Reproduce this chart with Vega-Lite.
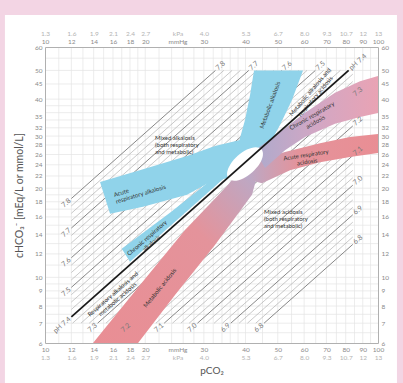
{
"$schema":"https://vega.github.io/schema/vega-lite/v6.json",
"width":333,"height":296,"autosize":"none",
"padding":{"left":45,"top":47,"right":25,"bottom":40},
"background":"#f3d5e4",
"config":{"view":{"stroke":null},"font":"Lato","axis":{"grid":false,"ticks":false,"domain":false,"labelOverlap":false,"labelFlush":false,"labelFontSize":6.5,"labelColor":"#8a8a8a","titleFontWeight":"normal","titleColor":"#555555"}},
"resolve":{"axis":{"x":"independent","y":"independent"}},
"datasets":{
"gx":[{"p":11},{"p":12},{"p":13},{"p":14},{"p":15},{"p":16},{"p":17},{"p":18},{"p":19},{"p":20},{"p":22},{"p":24},{"p":26},{"p":28},{"p":30},{"p":32},{"p":34},{"p":36},{"p":38},{"p":40},{"p":45},{"p":50},{"p":55},{"p":60},{"p":65},{"p":70},{"p":75},{"p":80},{"p":85},{"p":90},{"p":95}],
"gy":[{"h":6.5},{"h":7},{"h":7.5},{"h":8},{"h":8.5},{"h":9},{"h":9.5},{"h":10},{"h":11},{"h":12},{"h":13},{"h":14},{"h":15},{"h":16},{"h":17},{"h":18},{"h":19},{"h":20},{"h":22},{"h":24},{"h":26},{"h":28},{"h":30},{"h":32},{"h":34},{"h":36},{"h":38},{"h":40},{"h":45},{"h":50},{"h":55}],
"bands":[
{"b":"ara","i":1,"p":14.63,"h":21.0},{"b":"ara","i":2,"p":19.70,"h":23.2},{"b":"ara","i":3,"p":26.70,"h":25.7},{"b":"ara","i":4,"p":32.39,"h":27.8},{"b":"ara","i":5,"p":38.52,"h":29.1},{"b":"ara","i":6,"p":40.71,"h":24.5},{"b":"ara","i":7,"p":35.44,"h":21.7},{"b":"ara","i":8,"p":30.65,"h":20.7},{"b":"ara","i":9,"p":26.70,"h":19.0},{"b":"ara","i":10,"p":19.70,"h":17.3},{"b":"ara","i":11,"p":15.68,"h":16.4},
{"b":"cra","i":1,"p":17.0,"h":12.5},{"b":"cra","i":2,"p":24.0,"h":16.7},{"b":"cra","i":3,"p":31.0,"h":21.0},{"b":"cra","i":4,"p":36.0,"h":24.0},{"b":"cra","i":5,"p":38.0,"h":23.8},{"b":"cra","i":6,"p":18.0,"h":11.28},
{"b":"ma","i":1,"p":42.43,"h":50},{"b":"ma","i":2,"p":59.55,"h":50},{"b":"ma","i":3,"p":55.17,"h":39.7},{"b":"ma","i":4,"p":50.79,"h":32.7},{"b":"ma","i":5,"p":46.10,"h":26.9},{"b":"ma","i":6,"p":39.87,"h":24.9},{"b":"ma","i":7,"p":37.99,"h":28.0},{"b":"ma","i":8,"p":39.87,"h":34.0},{"b":"ma","i":9,"p":41.28,"h":41.3},
{"b":"mac","i":1,"p":13.94,"h":6},{"b":"mac","i":2,"p":19.29,"h":9.42},{"b":"mac","i":3,"p":26.33,"h":14.45},{"b":"mac","i":4,"p":35.44,"h":20.5},{"b":"mac","i":5,"p":37.5,"h":22.3},{"b":"mac","i":6,"p":43.5,"h":22.3},{"b":"mac","i":7,"p":41.84,"h":19.0},{"b":"mac","i":8,"p":32.39,"h":12.86},{"b":"mac","i":9,"p":24.57,"h":8.72},{"b":"mac","i":10,"p":19.03,"h":6},
{"b":"arac","i":1,"p":40.0,"h":23.5},{"b":"arac","i":2,"p":41.28,"h":24.5},{"b":"arac","i":3,"p":52.57,"h":26.5},{"b":"arac","i":4,"p":66.96,"h":28.4},{"b":"arac","i":5,"p":82.39,"h":29.8},{"b":"arac","i":6,"p":100,"h":30.5},{"b":"arac","i":7,"p":100,"h":26.3},{"b":"arac","i":8,"p":82.39,"h":25.5},{"b":"arac","i":9,"p":66.96,"h":24.5},{"b":"arac","i":10,"p":54.42,"h":23.0},{"b":"arac","i":11,"p":44.84,"h":20.8},{"b":"arac","i":12,"p":40.0,"h":21.5},
{"b":"crac","i":1,"p":42.73,"h":26.9},{"b":"crac","i":2,"p":50.79,"h":31.0},{"b":"crac","i":3,"p":60.37,"h":36.0},{"b":"crac","i":4,"p":74.27,"h":42.0},{"b":"crac","i":5,"p":88.31,"h":46.0},{"b":"crac","i":6,"p":100,"h":47.9},{"b":"crac","i":7,"p":100,"h":35.9},{"b":"crac","i":8,"p":88.31,"h":34.8},{"b":"crac","i":9,"p":74.27,"h":33.0},{"b":"crac","i":10,"p":60.37,"h":29.8},{"b":"crac","i":11,"p":52.57,"h":26.9},{"b":"crac","i":12,"p":45.79,"h":23.4},
{"b":"ov","i":1,"p":44.68,"h":27.06},{"b":"ov","i":2,"p":45.11,"h":25.80},{"b":"ov","i":3,"p":44.10,"h":24.19},{"b":"ov","i":4,"p":41.93,"h":22.66},{"b":"ov","i":5,"p":39.35,"h":21.59},{"b":"ov","i":6,"p":37.05,"h":21.19},{"b":"ov","i":7,"p":35.57,"h":21.56},{"b":"ov","i":8,"p":35.23,"h":22.60},{"b":"ov","i":9,"p":36.05,"h":24.11},{"b":"ov","i":10,"p":37.91,"h":25.74},{"b":"ov","i":11,"p":40.40,"h":27.01},{"b":"ov","i":12,"p":42.90,"h":27.52}
],
"ph":[
{"ph":6.8,"c":"maj","e":"s","p":45.49,"h":7,"lab":"6.8"},{"ph":6.8,"c":"maj","e":"e","p":84,"h":12.92,"lab":"6.8"},
{"ph":6.825,"c":"min","e":"s","p":42.95,"h":7},{"ph":6.825,"c":"min","e":"e","p":84,"h":13.69},
{"ph":6.85,"c":"min","e":"s","p":40.55,"h":7},{"ph":6.85,"c":"min","e":"e","p":84,"h":14.50},
{"ph":6.875,"c":"min","e":"s","p":38.28,"h":7},{"ph":6.875,"c":"min","e":"e","p":84,"h":15.36},
{"ph":6.9,"c":"maj","e":"s","p":36.14,"h":7,"lab":"6.9"},{"ph":6.9,"c":"maj","e":"e","p":84,"h":16.27,"lab":"6.9"},
{"ph":6.925,"c":"min","e":"s","p":34.12,"h":7},{"ph":6.925,"c":"min","e":"e","p":84,"h":17.24},
{"ph":6.95,"c":"min","e":"s","p":32.21,"h":7},{"ph":6.95,"c":"min","e":"e","p":84,"h":18.26},
{"ph":6.975,"c":"min","e":"s","p":30.41,"h":7},{"ph":6.975,"c":"min","e":"e","p":84,"h":19.34},
{"ph":7.0,"c":"maj","e":"s","p":28.70,"h":7,"lab":"7.0"},{"ph":7.0,"c":"maj","e":"e","p":84,"h":20.48,"lab":"7.0"},
{"ph":7.025,"c":"min","e":"s","p":27.10,"h":7},{"ph":7.025,"c":"min","e":"e","p":84,"h":21.70},
{"ph":7.05,"c":"min","e":"s","p":25.58,"h":7},{"ph":7.05,"c":"min","e":"e","p":84,"h":22.98},
{"ph":7.075,"c":"min","e":"s","p":24.15,"h":7},{"ph":7.075,"c":"min","e":"e","p":84,"h":24.35},
{"ph":7.1,"c":"maj","e":"s","p":22.80,"h":7,"lab":"7.1"},{"ph":7.1,"c":"maj","e":"e","p":84,"h":25.79,"lab":"7.1"},
{"ph":7.125,"c":"min","e":"s","p":21.53,"h":7},{"ph":7.125,"c":"min","e":"e","p":84,"h":27.32},
{"ph":7.15,"c":"min","e":"s","p":20.32,"h":7},{"ph":7.15,"c":"min","e":"e","p":84,"h":28.93},
{"ph":7.175,"c":"min","e":"s","p":19.18,"h":7},{"ph":7.175,"c":"min","e":"e","p":84,"h":30.65},
{"ph":7.2,"c":"maj","e":"s","p":18.11,"h":7,"lab":"7.2"},{"ph":7.2,"c":"maj","e":"e","p":84,"h":32.47,"lab":"7.2"},
{"ph":7.225,"c":"min","e":"s","p":17.10,"h":7},{"ph":7.225,"c":"min","e":"e","p":84,"h":34.39},
{"ph":7.25,"c":"min","e":"s","p":16.14,"h":7},{"ph":7.25,"c":"min","e":"e","p":84,"h":36.43},
{"ph":7.275,"c":"min","e":"s","p":15.24,"h":7},{"ph":7.275,"c":"min","e":"e","p":84,"h":38.59},
{"ph":7.3,"c":"maj","e":"s","p":14.39,"h":7,"lab":"7.3"},{"ph":7.3,"c":"maj","e":"e","p":84,"h":40.87,"lab":"7.3"},
{"ph":7.325,"c":"min","e":"s","p":13.58,"h":7},{"ph":7.325,"c":"min","e":"e","p":84,"h":43.29},
{"ph":7.35,"c":"min","e":"s","p":12.82,"h":7},{"ph":7.35,"c":"min","e":"e","p":84,"h":45.86},
{"ph":7.375,"c":"min","e":"s","p":12.10,"h":7},{"ph":7.375,"c":"min","e":"e","p":84,"h":48.58},
{"ph":7.4,"c":"n","e":"s","p":12,"h":7.35,"lab":"pH 7.4"},{"ph":7.4,"c":"n","e":"e","p":81.63,"h":50,"lab":"pH 7.4"},
{"ph":7.425,"c":"min","e":"s","p":12,"h":7.79},{"ph":7.425,"c":"min","e":"e","p":77.06,"h":50},
{"ph":7.45,"c":"min","e":"s","p":12,"h":8.25},{"ph":7.45,"c":"min","e":"e","p":72.75,"h":50},
{"ph":7.475,"c":"min","e":"s","p":12,"h":8.74},{"ph":7.475,"c":"min","e":"e","p":68.68,"h":50},
{"ph":7.5,"c":"maj","e":"s","p":12,"h":9.25,"lab":"7.5"},{"ph":7.5,"c":"maj","e":"e","p":64.84,"h":50,"lab":"7.5"},
{"ph":7.525,"c":"min","e":"s","p":12,"h":9.80},{"ph":7.525,"c":"min","e":"e","p":61.21,"h":50},
{"ph":7.55,"c":"min","e":"s","p":12,"h":10.38},{"ph":7.55,"c":"min","e":"e","p":57.79,"h":50},
{"ph":7.575,"c":"min","e":"s","p":12,"h":11.00},{"ph":7.575,"c":"min","e":"e","p":54.55,"h":50},
{"ph":7.6,"c":"maj","e":"s","p":12,"h":11.65,"lab":"7.6"},{"ph":7.6,"c":"maj","e":"e","p":51.50,"h":50,"lab":"7.6"},
{"ph":7.625,"c":"min","e":"s","p":12,"h":12.34},{"ph":7.625,"c":"min","e":"e","p":48.62,"h":50},
{"ph":7.65,"c":"min","e":"s","p":12,"h":13.07},{"ph":7.65,"c":"min","e":"e","p":45.90,"h":50},
{"ph":7.675,"c":"min","e":"s","p":12,"h":13.85},{"ph":7.675,"c":"min","e":"e","p":43.33,"h":50},
{"ph":7.7,"c":"maj","e":"s","p":12,"h":14.67,"lab":"7.7"},{"ph":7.7,"c":"maj","e":"e","p":40.91,"h":50,"lab":"7.7"},
{"ph":7.725,"c":"min","e":"s","p":12,"h":15.54},{"ph":7.725,"c":"min","e":"e","p":38.62,"h":50},
{"ph":7.75,"c":"min","e":"s","p":12,"h":16.46},{"ph":7.75,"c":"min","e":"e","p":36.46,"h":50},
{"ph":7.775,"c":"min","e":"s","p":12,"h":17.43},{"ph":7.775,"c":"min","e":"e","p":34.42,"h":50},
{"ph":7.8,"c":"maj","e":"s","p":12,"h":18.46,"lab":"7.8"},{"ph":7.8,"c":"maj","e":"e","p":32.50,"h":50,"lab":"7.8"}
],
"notes":[
{"n":1,"p":21.39,"h":29.6,"t":"Mixed alkalosis\n(both respiratory\nand metabolic)"},
{"n":2,"p":45.47,"h":16.6,"t":"Mixed acidosis\n(both respiratory\nand metabolic)"},
{"n":3,"p":16.11,"h":18.97,"t":"Acute\nrespiratory alkalosis"},
{"n":4,"p":47.4,"h":38.2,"t":"Metabolic alkalosis"},
{"n":5,"p":62.5,"h":42.3,"t":"Metabolic alkalosis and\nrespiratory acidosis"},
{"n":6,"p":63.35,"h":35.1,"t":"Chronic respiratory\nacidosis"},
{"n":7,"p":60.79,"h":25.9,"t":"Acute respiratory\nacidosis"},
{"n":8,"p":20.25,"h":13.58,"t":"Chronic respiratory\nalkalosis"},
{"n":9,"p":16.0,"h":8.78,"t":"Respiratory alkalosis and\nmetabolic acidosis"},
{"n":10,"p":22.14,"h":9.21,"t":"Metabolic acidosis"}
]
},
"layer":[
{"data":{"values":[{}]},"mark":{"type":"rect","fill":"#ffffff"},
 "encoding":{"x":{"datum":7.58,"type":"quantitative","scale":{"type":"log","domain":[10,100],"nice":false},"axis":null},"x2":{"datum":114},
  "y":{"datum":77,"type":"quantitative","scale":{"type":"log","domain":[6,60],"nice":false},"axis":null},"y2":{"datum":4}}},
{"data":{"name":"gx"},"mark":{"type":"rule","stroke":"#e4e4e4","strokeWidth":0.7},
 "encoding":{"x":{"field":"p","type":"quantitative","scale":{"type":"log","domain":[10,100],"nice":false},
  "axis":{"orient":"bottom","values":[10,12,14,16,18,20,25,30,40,50,60,70,80,90,100],"labelExpr":"datum.value==25?'mmHg':''+datum.value","title":null,"domain":true,"domainColor":"#b0b0b0","labelPadding":3,"zindex":1}}}},
{"data":{"name":"gy"},"mark":{"type":"rule","stroke":"#e4e4e4","strokeWidth":0.7},
 "encoding":{"y":{"field":"h","type":"quantitative","scale":{"type":"log","domain":[6,60],"nice":false},
  "axis":{"orient":"left","values":[6,7,8,9,10,12,14,16,18,20,22,24,26,28,30,32,35,40,45,50,60],"labelExpr":"''+datum.value","title":"cHCO₃⁻ [mEq/L or mmol/L]","titleFontSize":10.5,"titlePadding":10,"labelPadding":3,"domain":true,"domainColor":"#b0b0b0","zindex":1}}}},
{"data":{"name":"ph"},"transform":[{"filter":"datum.c=='min'"}],"mark":{"type":"line","stroke":"#a5a5a5","strokeWidth":0.6},
 "encoding":{"x":{"field":"p","type":"quantitative","scale":{"type":"log","domain":[10,100],"nice":false},
  "axis":{"orient":"bottom","values":[10,12,14,16,18,20,25,30,40,50,60,70,80,90,100],"labelExpr":"datum.value==10?'1.3':datum.value==12?'1.6':datum.value==14?'1.9':datum.value==16?'2.1':datum.value==18?'2.4':datum.value==20?'2.7':datum.value==25?'kPa':datum.value==30?'4.0':datum.value==40?'5.3':datum.value==50?'6.7':datum.value==60?'8.0':datum.value==70?'9.3':datum.value==80?'10.7':datum.value==90?'12':'13'","labelColor":"#b3b3b3","labelPadding":11,"title":"pCO₂","titleFontSize":10,"titlePadding":5,"zindex":1}},
  "y":{"field":"h","type":"quantitative","scale":{"type":"log","domain":[6,60],"nice":false},
  "axis":{"orient":"right","values":[6,7,8,9,10,12,14,16,18,20,22,24,26,28,30,32,35,40,45,50,60],"labelExpr":"''+datum.value","title":null,"labelPadding":3,"domain":true,"domainColor":"#b0b0b0","zindex":1}},
  "detail":{"field":"ph","type":"nominal"}}},
{"data":{"name":"ph"},"transform":[{"filter":"datum.c=='maj'"}],"mark":{"type":"line","stroke":"#7a7a7a","strokeWidth":0.9},
 "encoding":{"x":{"field":"p","type":"quantitative","scale":{"type":"log","domain":[10,100],"nice":false},
  "axis":{"orient":"top","values":[10,12,14,16,18,20,25,30,40,50,60,70,80,90,100],"labelExpr":"datum.value==25?'mmHg':''+datum.value","title":null,"domain":true,"domainColor":"#b0b0b0","labelPadding":3,"zindex":1}},
  "y":{"field":"h","type":"quantitative","scale":{"type":"log","domain":[6,60],"nice":false},"axis":null},
  "detail":{"field":"ph","type":"nominal"}}},
{"data":{"name":"bands"},"transform":[{"filter":"datum.b=='ara'"}],"mark":{"type":"line","fill":"#90d3ea","strokeWidth":0,"interpolate":"linear"},
 "encoding":{"x":{"field":"p","type":"quantitative","scale":{"type":"log","domain":[10,100],"nice":false},"axis":null},"y":{"field":"h","type":"quantitative","scale":{"type":"log","domain":[6,60],"nice":false},"axis":null},"order":{"field":"i","type":"quantitative"}}},
{"data":{"name":"bands"},"transform":[{"filter":"datum.b=='cra'"}],"mark":{"type":"line","fill":"#90d3ea","strokeWidth":0},
 "encoding":{"x":{"field":"p","type":"quantitative","scale":{"type":"log","domain":[10,100],"nice":false},"axis":null},"y":{"field":"h","type":"quantitative","scale":{"type":"log","domain":[6,60],"nice":false},"axis":null},"order":{"field":"i","type":"quantitative"}}},
{"data":{"name":"bands"},"transform":[{"filter":"datum.b=='ma'"}],"mark":{"type":"line","fill":"#90d3ea","strokeWidth":0},
 "encoding":{"x":{"field":"p","type":"quantitative","scale":{"type":"log","domain":[10,100],"nice":false},"axis":null},"y":{"field":"h","type":"quantitative","scale":{"type":"log","domain":[6,60],"nice":false},"axis":null},"order":{"field":"i","type":"quantitative"}}},
{"data":{"name":"bands"},"transform":[{"filter":"datum.b=='mac'"}],"mark":{"type":"line","strokeWidth":0,"fill":{"gradient":"linear","x1":1,"y1":0,"x2":0,"y2":1,"stops":[{"offset":0,"color":"#b9aac8"},{"offset":0.35,"color":"#e4939b"},{"offset":1,"color":"#e98e94"}]}},
 "encoding":{"x":{"field":"p","type":"quantitative","scale":{"type":"log","domain":[10,100],"nice":false},"axis":null},"y":{"field":"h","type":"quantitative","scale":{"type":"log","domain":[6,60],"nice":false},"axis":null},"order":{"field":"i","type":"quantitative"}}},
{"data":{"name":"bands"},"transform":[{"filter":"datum.b=='arac'"}],"mark":{"type":"line","strokeWidth":0,"fill":{"gradient":"linear","x1":0,"y1":0,"x2":1,"y2":0,"stops":[{"offset":0,"color":"#b9aac8"},{"offset":0.4,"color":"#e4939b"},{"offset":1,"color":"#e98e94"}]}},
 "encoding":{"x":{"field":"p","type":"quantitative","scale":{"type":"log","domain":[10,100],"nice":false},"axis":null},"y":{"field":"h","type":"quantitative","scale":{"type":"log","domain":[6,60],"nice":false},"axis":null},"order":{"field":"i","type":"quantitative"}}},
{"data":{"name":"bands"},"transform":[{"filter":"datum.b=='crac'"}],"mark":{"type":"line","strokeWidth":0,"fill":{"gradient":"linear","x1":0,"y1":0,"x2":1,"y2":0,"stops":[{"offset":0,"color":"#aeaacc"},{"offset":0.5,"color":"#d2a7c4"},{"offset":1,"color":"#e9a3b4"}]}},
 "encoding":{"x":{"field":"p","type":"quantitative","scale":{"type":"log","domain":[10,100],"nice":false},"axis":null},"y":{"field":"h","type":"quantitative","scale":{"type":"log","domain":[6,60],"nice":false},"axis":null},"order":{"field":"i","type":"quantitative"}}},
{"data":{"name":"bands"},"transform":[{"filter":"datum.b=='ov'"}],"mark":{"type":"line","fill":"#ffffff","strokeWidth":0,"interpolate":"cardinal-closed"},
 "encoding":{"x":{"field":"p","type":"quantitative","scale":{"type":"log","domain":[10,100],"nice":false},"axis":null},"y":{"field":"h","type":"quantitative","scale":{"type":"log","domain":[6,60],"nice":false},"axis":null},"order":{"field":"i","type":"quantitative"}}},
{"data":{"name":"ph"},"transform":[{"filter":"datum.c=='n'"}],"mark":{"type":"line","stroke":"#1a1a1a","strokeWidth":1.8},
 "encoding":{"x":{"field":"p","type":"quantitative","scale":{"type":"log","domain":[10,100],"nice":false},
  "axis":{"orient":"top","values":[10,12,14,16,18,20,25,30,40,50,60,70,80,90,100],"labelExpr":"datum.value==10?'1.3':datum.value==12?'1.6':datum.value==14?'1.9':datum.value==16?'2.1':datum.value==18?'2.4':datum.value==20?'2.7':datum.value==25?'kPa':datum.value==30?'4.0':datum.value==40?'5.3':datum.value==50?'6.7':datum.value==60?'8.0':datum.value==70?'9.3':datum.value==80?'10.7':datum.value==90?'12':'13'","labelColor":"#b3b3b3","labelPadding":11,"title":null,"zindex":1}},
  "y":{"field":"h","type":"quantitative","scale":{"type":"log","domain":[6,60],"nice":false},"axis":null}}},
{"data":{"name":"ph"},"transform":[{"filter":"datum.lab && datum.e=='s'"}],"mark":{"type":"text","angle":-41.6,"align":"right","baseline":"middle","dx":-2,"fontSize":7,"color":"#777777"},
 "encoding":{"x":{"field":"p","type":"quantitative","scale":{"type":"log","domain":[10,100],"nice":false},"axis":null},"y":{"field":"h","type":"quantitative","scale":{"type":"log","domain":[6,60],"nice":false},"axis":null},"text":{"field":"lab","type":"nominal"}}},
{"data":{"name":"ph"},"transform":[{"filter":"datum.lab && datum.e=='e'"}],"mark":{"type":"text","angle":-41.6,"align":"left","baseline":"middle","dx":2,"fontSize":7,"color":"#777777"},
 "encoding":{"x":{"field":"p","type":"quantitative","scale":{"type":"log","domain":[10,100],"nice":false},"axis":null},"y":{"field":"h","type":"quantitative","scale":{"type":"log","domain":[6,60],"nice":false},"axis":null},"text":{"field":"lab","type":"nominal"}}},
{"data":{"name":"notes"},"transform":[{"filter":"datum.n<=2"}],"mark":{"type":"text","align":"left","baseline":"middle","fontSize":6,"lineHeight":7,"lineBreak":"\n","color":"#333333"},
 "encoding":{"x":{"field":"p","type":"quantitative","scale":{"type":"log","domain":[10,100],"nice":false},"axis":null},"y":{"field":"h","type":"quantitative","scale":{"type":"log","domain":[6,60],"nice":false},"axis":null},"text":{"field":"t","type":"nominal"}}},
{"data":{"name":"notes"},"transform":[{"filter":"datum.n==3"}],"mark":{"type":"text","align":"left","baseline":"middle","angle":-17,"fontSize":6,"lineHeight":7,"lineBreak":"\n","color":"#333333"},
 "encoding":{"x":{"field":"p","type":"quantitative","scale":{"type":"log","domain":[10,100],"nice":false},"axis":null},"y":{"field":"h","type":"quantitative","scale":{"type":"log","domain":[6,60],"nice":false},"axis":null},"text":{"field":"t","type":"nominal"}}},
{"data":{"name":"notes"},"transform":[{"filter":"datum.n==4"}],"mark":{"type":"text","align":"center","baseline":"middle","angle":-70,"fontSize":6,"lineHeight":7,"lineBreak":"\n","color":"#333333"},
 "encoding":{"x":{"field":"p","type":"quantitative","scale":{"type":"log","domain":[10,100],"nice":false},"axis":null},"y":{"field":"h","type":"quantitative","scale":{"type":"log","domain":[6,60],"nice":false},"axis":null},"text":{"field":"t","type":"nominal"}}},
{"data":{"name":"notes"},"transform":[{"filter":"datum.n==5"}],"mark":{"type":"text","align":"center","baseline":"middle","angle":-50,"fontSize":6,"lineHeight":7,"lineBreak":"\n","color":"#333333"},
 "encoding":{"x":{"field":"p","type":"quantitative","scale":{"type":"log","domain":[10,100],"nice":false},"axis":null},"y":{"field":"h","type":"quantitative","scale":{"type":"log","domain":[6,60],"nice":false},"axis":null},"text":{"field":"t","type":"nominal"}}},
{"data":{"name":"notes"},"transform":[{"filter":"datum.n==6"}],"mark":{"type":"text","align":"center","baseline":"middle","angle":-30,"fontSize":6,"lineHeight":7,"lineBreak":"\n","color":"#333333"},
 "encoding":{"x":{"field":"p","type":"quantitative","scale":{"type":"log","domain":[10,100],"nice":false},"axis":null},"y":{"field":"h","type":"quantitative","scale":{"type":"log","domain":[6,60],"nice":false},"axis":null},"text":{"field":"t","type":"nominal"}}},
{"data":{"name":"notes"},"transform":[{"filter":"datum.n==7"}],"mark":{"type":"text","align":"center","baseline":"middle","angle":-9,"fontSize":6,"lineHeight":7,"lineBreak":"\n","color":"#333333"},
 "encoding":{"x":{"field":"p","type":"quantitative","scale":{"type":"log","domain":[10,100],"nice":false},"axis":null},"y":{"field":"h","type":"quantitative","scale":{"type":"log","domain":[6,60],"nice":false},"axis":null},"text":{"field":"t","type":"nominal"}}},
{"data":{"name":"notes"},"transform":[{"filter":"datum.n==8 || datum.n==9"}],"mark":{"type":"text","align":"center","baseline":"middle","angle":-41,"fontSize":6,"lineHeight":7,"lineBreak":"\n","color":"#333333"},
 "encoding":{"x":{"field":"p","type":"quantitative","scale":{"type":"log","domain":[10,100],"nice":false},"axis":null},"y":{"field":"h","type":"quantitative","scale":{"type":"log","domain":[6,60],"nice":false},"axis":null},"text":{"field":"t","type":"nominal"}}},
{"data":{"name":"notes"},"transform":[{"filter":"datum.n==10"}],"mark":{"type":"text","align":"center","baseline":"middle","angle":-51,"fontSize":6,"lineHeight":7,"lineBreak":"\n","color":"#333333"},
 "encoding":{"x":{"field":"p","type":"quantitative","scale":{"type":"log","domain":[10,100],"nice":false},"axis":null},"y":{"field":"h","type":"quantitative","scale":{"type":"log","domain":[6,60],"nice":false},"axis":null},"text":{"field":"t","type":"nominal"}}}
]
}
